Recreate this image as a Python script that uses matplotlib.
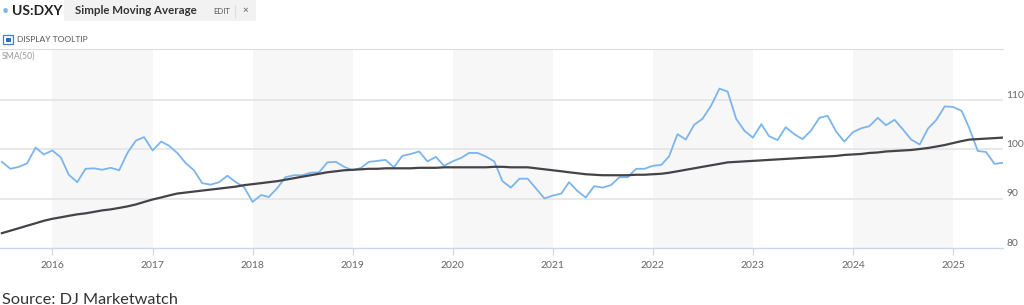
import matplotlib
matplotlib.use('Agg')
import matplotlib.pyplot as plt
import matplotlib.dates as mdates
import pandas as pd
from matplotlib.patches import Rectangle

# monthly DXY closes, Jul 2015 .. Jul 2025
dxy = [
    97.4, 96.0, 96.4, 97.1, 100.3, 98.9,
    99.7, 98.3, 94.8, 93.3, 96.0, 96.1, 95.8, 96.2, 95.7, 99.2, 101.7, 102.4,
    99.7, 101.5, 100.7, 99.2, 97.2, 95.7, 93.1, 92.8, 93.3, 94.6, 93.3, 92.3,
    89.3, 90.7, 90.3, 92.1, 94.3, 94.7, 94.7, 95.2, 95.3, 97.3, 97.4, 96.4,
    95.7, 96.2, 97.4, 97.6, 97.8, 96.3, 98.6, 99.0, 99.5, 97.5, 98.4, 96.6,
    97.5, 98.2, 99.2, 99.2, 98.5, 97.5, 93.5, 92.2, 94.0, 94.0, 92.0, 90.0,
    90.6, 91.0, 93.3, 91.5, 90.2, 92.5, 92.2, 92.7, 94.3, 94.3, 96.0, 96.0,
    96.6, 96.8, 98.5, 103.0, 101.9, 104.9, 106.1, 108.7, 112.2, 111.6, 106.1, 103.7,
    102.3, 105.0, 102.6, 101.8, 104.4, 103.0, 102.0, 103.7, 106.3, 106.7, 103.5, 101.5,
    103.4, 104.2, 104.6, 106.3, 104.8, 105.9, 104.0, 101.9, 100.9, 104.1, 105.9, 108.6,
    108.5, 107.7, 104.2, 99.6, 99.4, 97.0, 97.2,
]

# SMA(50) as drawn on the chart
sma50 = [
    83.0, 83.5, 84.0, 84.5, 85.0, 85.5,
    85.9, 86.2, 86.5, 86.8, 87.0, 87.3, 87.6, 87.8, 88.1, 88.4, 88.8, 89.3,
    89.8, 90.2, 90.6, 91.0, 91.2, 91.4, 91.6, 91.8, 92.0, 92.2, 92.4, 92.7,
    92.9, 93.1, 93.3, 93.5, 93.8, 94.1, 94.4, 94.7, 95.0, 95.3, 95.5, 95.7,
    95.8, 95.9, 96.0, 96.0, 96.1, 96.1, 96.1, 96.1, 96.2, 96.2, 96.2, 96.3,
    96.3, 96.3, 96.3, 96.3, 96.3, 96.4, 96.4, 96.3, 96.3, 96.3, 96.1, 95.9,
    95.7, 95.5, 95.3, 95.1, 94.9, 94.8, 94.7, 94.7, 94.7, 94.7, 94.8, 94.8,
    94.9, 95.0, 95.2, 95.5, 95.8, 96.1, 96.4, 96.7, 97.0, 97.3, 97.4, 97.5,
    97.6, 97.7, 97.8, 97.9, 98.0, 98.1, 98.2, 98.3, 98.4, 98.5, 98.6, 98.8,
    98.9, 99.0, 99.2, 99.3, 99.5, 99.6, 99.7, 99.8, 100.0, 100.2, 100.5, 100.8,
    101.2, 101.6, 101.9, 102.0, 102.1, 102.2, 102.3,
]

years = list(range(2016, 2026))
band_years = [2016, 2018, 2020, 2022, 2024]
y_ticks = [80, 90, 100, 110]

dates = pd.date_range('2015-07-01', periods=len(dxy), freq='MS')

W, H = 1024, 305
fig = plt.figure(figsize=(W / 100, H / 100), dpi=100)
plt.rcParams['font.family'] = ['Lato', 'DejaVu Sans']


def px(x, y):
    return x / W, 1 - y / H


left, right, top, bottom = 0, 1003, 50, 248
ax = fig.add_axes([left / W, 1 - bottom / H, (right - left) / W, (bottom - top) / H])

for y0 in band_years:
    ax.axvspan(pd.Timestamp(f'{y0}-01-01'), pd.Timestamp(f'{y0 + 1}-01-01'),
               color='#f7f7f7', lw=0, zorder=0)

for v in y_ticks[1:]:
    ax.axhline(v, color='#e6e6e6', lw=1.3, zorder=1)

ax.plot(dates, dxy, color='#7cb5ec', lw=1.3, zorder=3)
ax.plot(dates, sma50, color='#434348', lw=1.6, zorder=4)

ax.set_xlim(pd.Timestamp('2015-06-24'), pd.Timestamp('2025-07-02'))
ax.set_ylim(80, 120)

for s in ['top', 'left', 'right']:
    ax.spines[s].set_visible(False)
ax.spines['bottom'].set_color('#ccd6eb')
ax.spines['bottom'].set_linewidth(1.0)

ax.set_xticks([pd.Timestamp(f'{y}-01-01') for y in years])
ax.xaxis.set_major_formatter(mdates.DateFormatter('%Y'))
ax.tick_params(axis='x', length=5, color='#ccd6eb', pad=4, labelsize=7.5, labelcolor='#666666')

ax.yaxis.tick_right()
ax.set_yticks(y_ticks)
ax.tick_params(axis='y', length=0, pad=2.5, labelsize=7.4, labelcolor='#666666')
for lab in ax.get_yticklabels():
    lab.set_verticalalignment('bottom')

# header
fig.text(*px(5, 11), '\u2022', color='#7cb5ec', fontsize=9, va='center', ha='center')
fig.text(*px(12, 11), 'US:DXY', fontsize=10, fontweight='bold', color='#222222', va='center')
fig.patches.append(Rectangle(px(64, 21), 192 / W, 21 / H, transform=fig.transFigure,
                             facecolor='#f2f2f2', edgecolor='none'))
fig.text(*px(75, 11), 'Simple Moving Average', fontsize=8.3, fontweight='bold', color='#333333', va='center')
fig.text(*px(213, 11), 'EDIT', fontsize=5.5, color='#555555', va='center')
fig.lines.append(plt.Line2D([235 / W, 235 / W], [1 - 5 / H, 1 - 17 / H], transform=fig.transFigure,
                            color='#dddddd', lw=0.8))
fig.text(*px(245, 11), '\u00d7', fontsize=7, color='#555555', va='center', ha='center')

fig.patches.append(Rectangle(px(3, 44), 10 / W, 9 / H, transform=fig.transFigure,
                             facecolor='white', edgecolor='#4a7fc1', lw=0.9))
fig.patches.append(Rectangle(px(5.5, 41.5), 5 / W, 4 / H, transform=fig.transFigure,
                             facecolor='#2f6db5', edgecolor='none'))
fig.text(*px(17, 40), 'DISPLAY TOOLTIP', fontsize=6.1, color='#555555', va='center')
fig.lines.append(plt.Line2D([0, right / W], [1 - 49 / H, 1 - 49 / H], transform=fig.transFigure,
                            color='#dddddd', lw=0.8))
fig.text(*px(2, 56), 'SMA(50)', fontsize=6.3, color='#999999', va='center')

fig.text(*px(2, 304), 'Source: DJ Marketwatch', fontsize=11.7, color='#333333', va='baseline')

fig.savefig('out.png', dpi=100)
